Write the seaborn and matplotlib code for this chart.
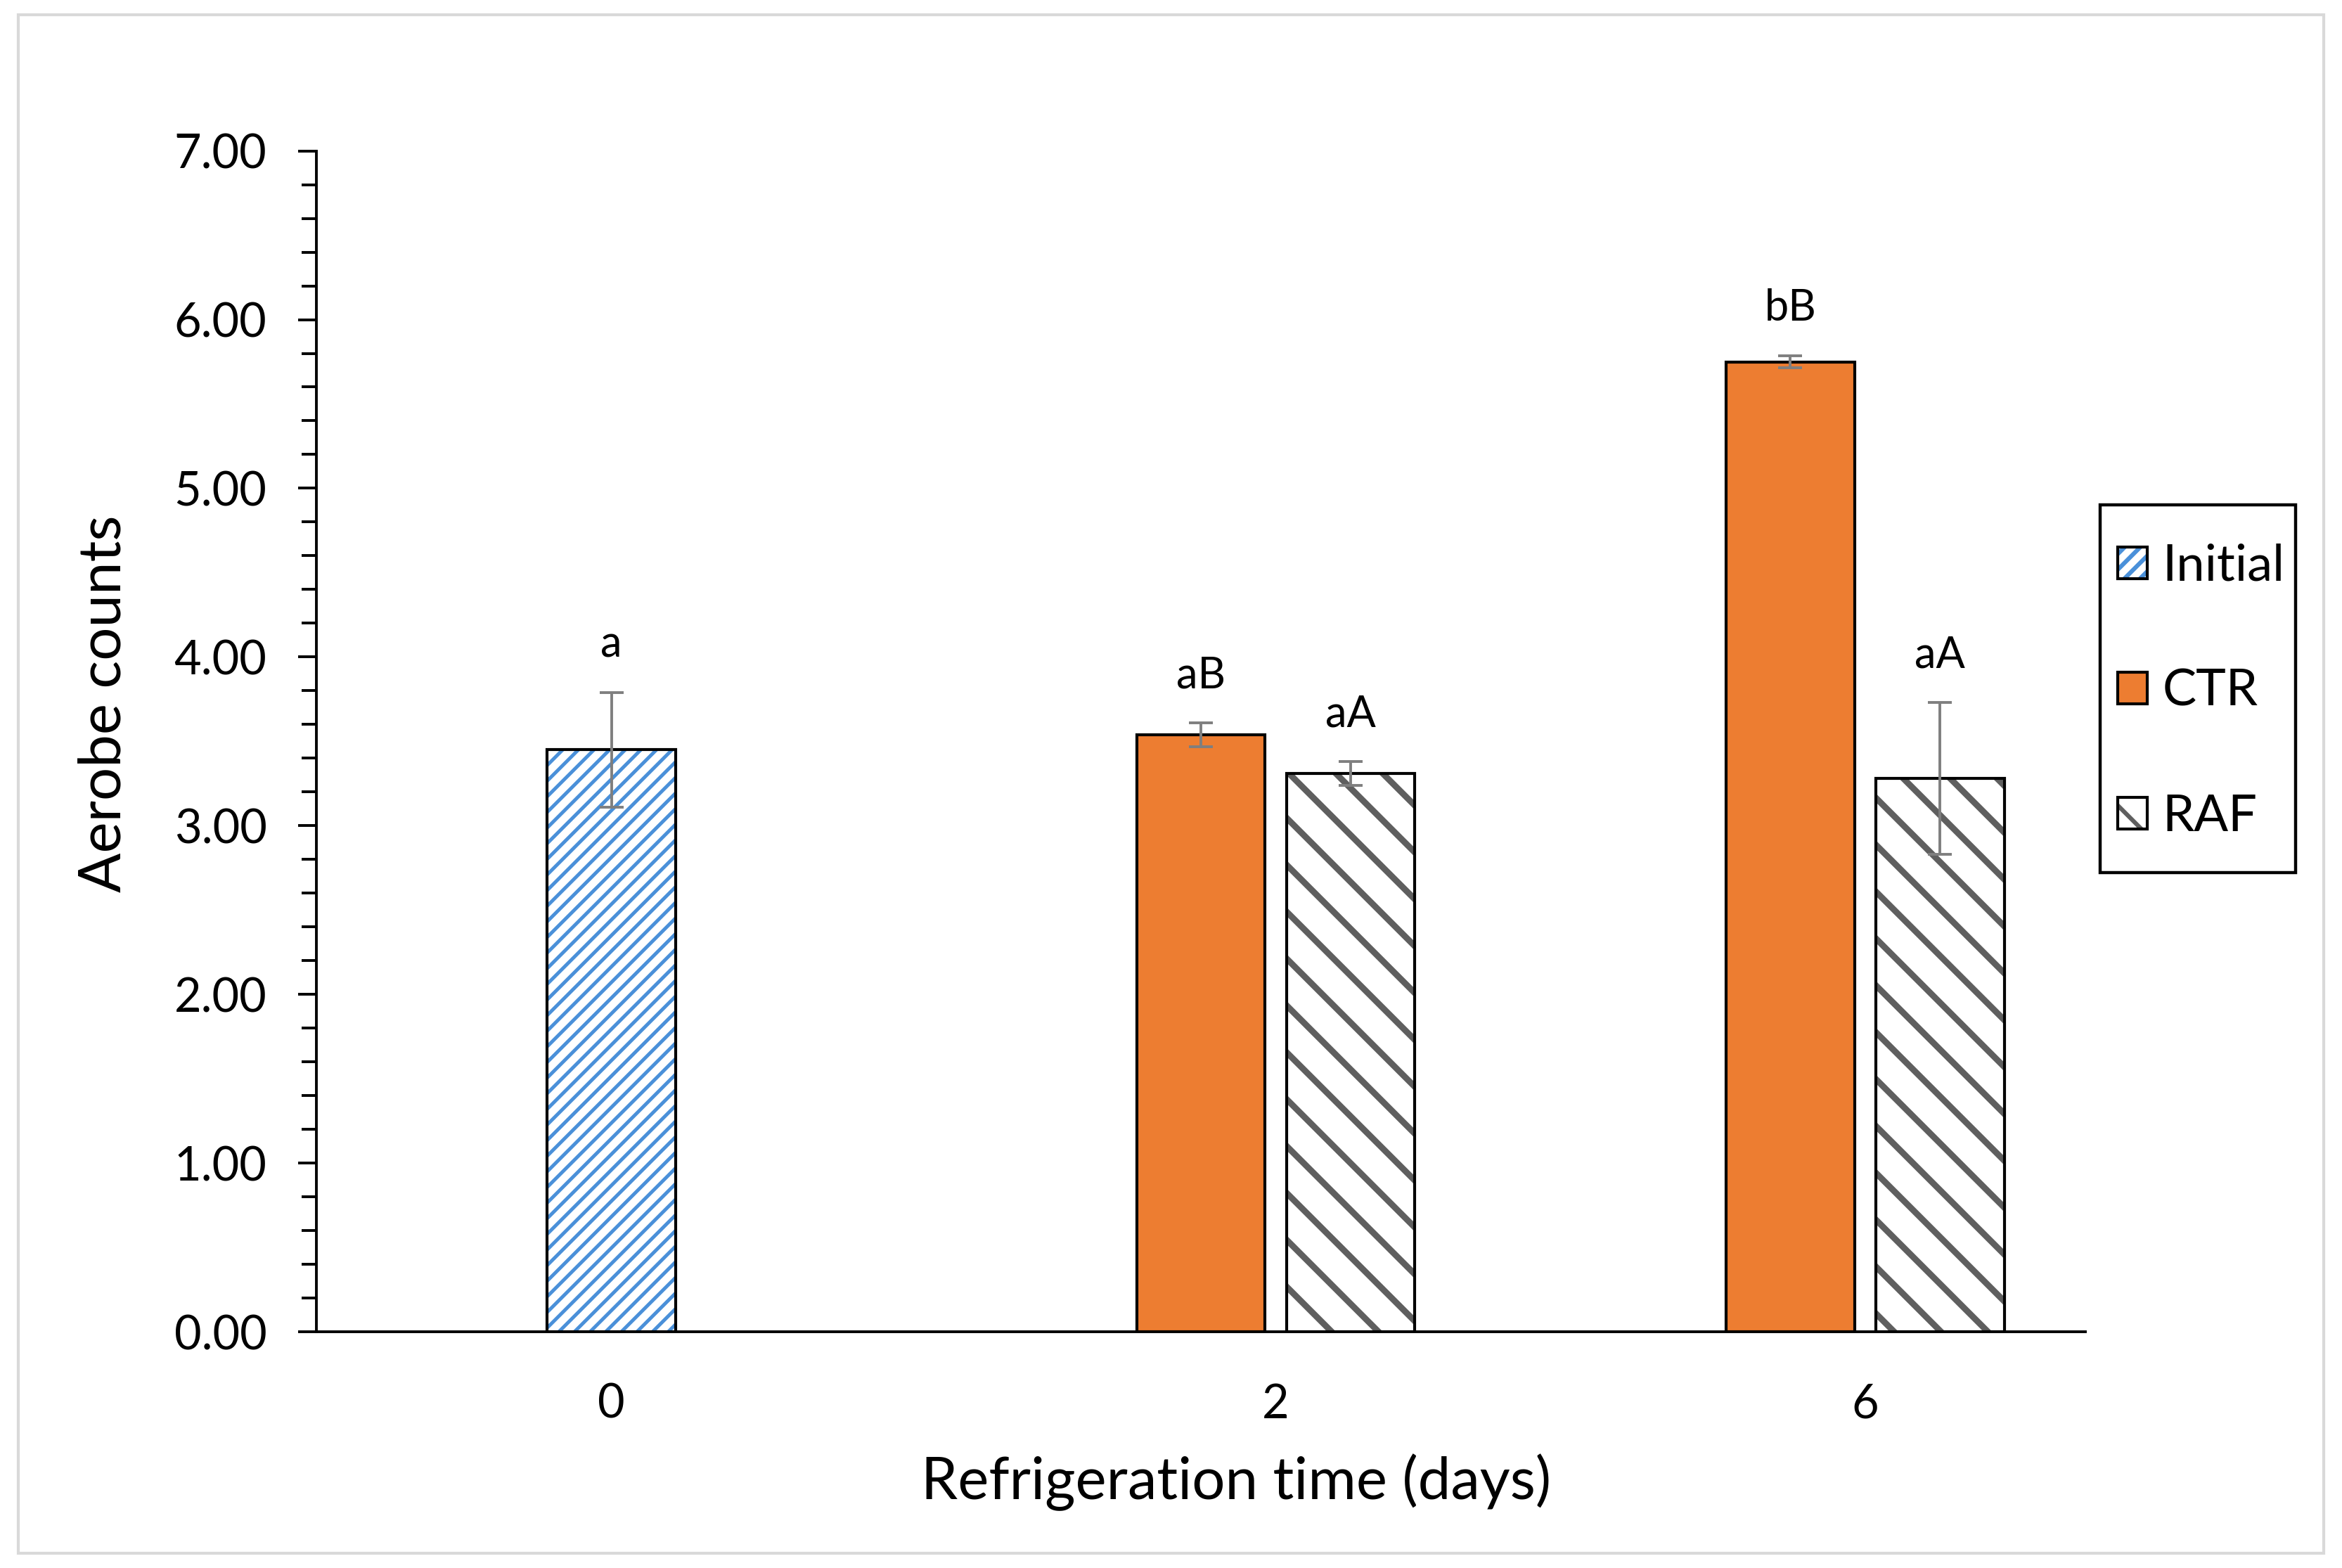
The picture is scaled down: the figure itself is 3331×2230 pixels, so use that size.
import numpy as np
import pandas as pd
import matplotlib
matplotlib.use("Agg")
import matplotlib.pyplot as plt
import seaborn as sns
from matplotlib.patches import Patch, Rectangle
from matplotlib.ticker import MultipleLocator, FormatStrFormatter

# data
days = ["0", "2", "6"]
treatments = ["Initial", "CTR", "RAF"]

bar_day = ["0", "2", "2", "6", "6"]
bar_treatment = ["Initial", "CTR", "RAF", "CTR", "RAF"]
bar_count = [3.45, 3.54, 3.31, 5.75, 3.28]
bar_sd = [0.34, 0.07, 0.07, 0.035, 0.45]
bar_letter = ["a", "aB", "aA", "bB", "aA"]

# styling
face = {"Initial": "white", "CTR": "#ED7D31", "RAF": "white"}
stripe = {"Initial": "#4A90D9", "CTR": "#ED7D31", "RAF": "#5F5F5F"}
hatch = {"Initial": "///", "CTR": "", "RAF": "\\"}
stripe_lw = {"Initial": 1.8, "CTR": 1.0, "RAF": 3.2}
BAR_W = 0.218
SLOT_PITCH = 0.254

sns.set_theme(style="ticks", rc={
    "axes.edgecolor": "black", "xtick.color": "black", "ytick.color": "black",
    "text.color": "black", "axes.labelcolor": "black",
})
plt.rcParams["font.family"] = ["Lato", "DejaVu Sans"]
plt.rcParams["hatch.linewidth"] = 2.2

df = pd.DataFrame({"day": bar_day, "treatment": bar_treatment,
                   "count": bar_count, "sd": bar_sd, "letter": bar_letter})
group = df["day"].map({d: i for i, d in enumerate(days)})
slot = df.groupby("day").cumcount()
df["pos"] = group + 0.5 + slot * SLOT_PITCH
native = np.diff(np.unique(df["pos"])).min()

W, H = 3331, 2230
fig = plt.figure(figsize=(W / 200, H / 200), dpi=200)
ax = fig.add_axes([0.1352, 0.1505, 0.7551, 0.7533])

sns.barplot(data=df, x="pos", y="count", hue="treatment", hue_order=treatments,
            palette=face, native_scale=True, dodge=False, width=BAR_W / native,
            errorbar=None, legend=False, ax=ax)

# hatch in stripe colour, then a black outline on top
for p in list(ax.patches):
    cx = p.get_x() + p.get_width() / 2
    row = df.iloc[(df["pos"] - cx).abs().argmin()]
    t = row["treatment"]
    p.set_facecolor(face[t])
    p.set_edgecolor(stripe[t])
    p.set_linewidth(0)
    p.set_hatch(hatch[t])
    if hasattr(p, "set_hatch_linewidth"):
        p.set_hatch_linewidth(stripe_lw[t])
    ax.add_patch(Rectangle((p.get_x(), p.get_y()), p.get_width(), p.get_height(),
                           fill=False, edgecolor="black", linewidth=1.5, zorder=3))

ax.errorbar(df["pos"], df["count"], yerr=df["sd"], fmt="none", ecolor="#7F7F7F",
            elinewidth=1.4, capsize=6, capthick=1.4, zorder=4)

for _, row in df.iterrows():
    ax.annotate(row["letter"], xy=(row["pos"], row["count"] + row["sd"]),
                xytext=(0, 18), textcoords="offset points",
                ha="center", va="baseline", fontsize=22)

ax.set_xlim(0, 3)
ax.set_ylim(0, 7)
ax.yaxis.set_major_locator(MultipleLocator(1))
ax.yaxis.set_minor_locator(MultipleLocator(0.2))
ax.yaxis.set_major_formatter(FormatStrFormatter("%.2f"))
tick_pos = df.groupby("day")["pos"].mean()[days]
ax.set_xticks(tick_pos.values, days)
ax.tick_params(axis="x", length=0, pad=26, labelsize=24)
ax.tick_params(axis="y", which="major", length=9.5, width=1.4, pad=16, labelsize=24)
ax.tick_params(axis="y", which="minor", length=7.5, width=1.4)
for s in ["left", "bottom"]:
    ax.spines[s].set_linewidth(1.4)
sns.despine(ax=ax)

ax.set_xlabel("Refrigeration time (days)", fontsize=30, labelpad=14, x=0.52)
ax.set_ylabel("Aerobe counts", fontsize=30, labelpad=22, y=0.532)

handles = []
for t in treatments:
    kw = {"hatch": hatch[t]} if hatch[t] else {}
    hp = Patch(facecolor=face[t], edgecolor=stripe[t], linewidth=0, **kw)
    if hasattr(hp, "set_hatch_linewidth"):
        hp.set_hatch_linewidth(stripe_lw[t])
    handles.append((hp, Patch(fill=False, edgecolor="black", linewidth=1.5)))
leg = fig.legend(handles, treatments, loc="upper left", bbox_to_anchor=(0.9043, 0.6534),
                 bbox_transform=fig.transFigure, borderaxespad=0, fontsize=26,
                 handlelength=0.58, handleheight=0.58, handletextpad=0.3,
                 labelspacing=1.565, borderpad=0, frameon=False)

# legend box drawn round the packed entries, wider above/below than at the sides
fig.canvas.draw()
bb = leg.get_window_extent().transformed(fig.transFigure.inverted())
pad_l, pad_r = 12 / 1568, 7 / 1568
pad_t, pad_b = 26 / 1050, 22 / 1050
fig.patches.append(Rectangle((bb.x0 - pad_l, bb.y0 - pad_b), bb.width + pad_l + pad_r,
                             bb.height + pad_t + pad_b, transform=fig.transFigure,
                             fill=False, edgecolor="black", linewidth=1.6))

fig.patches.append(Rectangle((0.0077, 0.0095), 0.9846, 0.981, transform=fig.transFigure,
                             fill=False, edgecolor="#D9D9D9", linewidth=1.5))

fig.savefig("out.png", dpi=200)
